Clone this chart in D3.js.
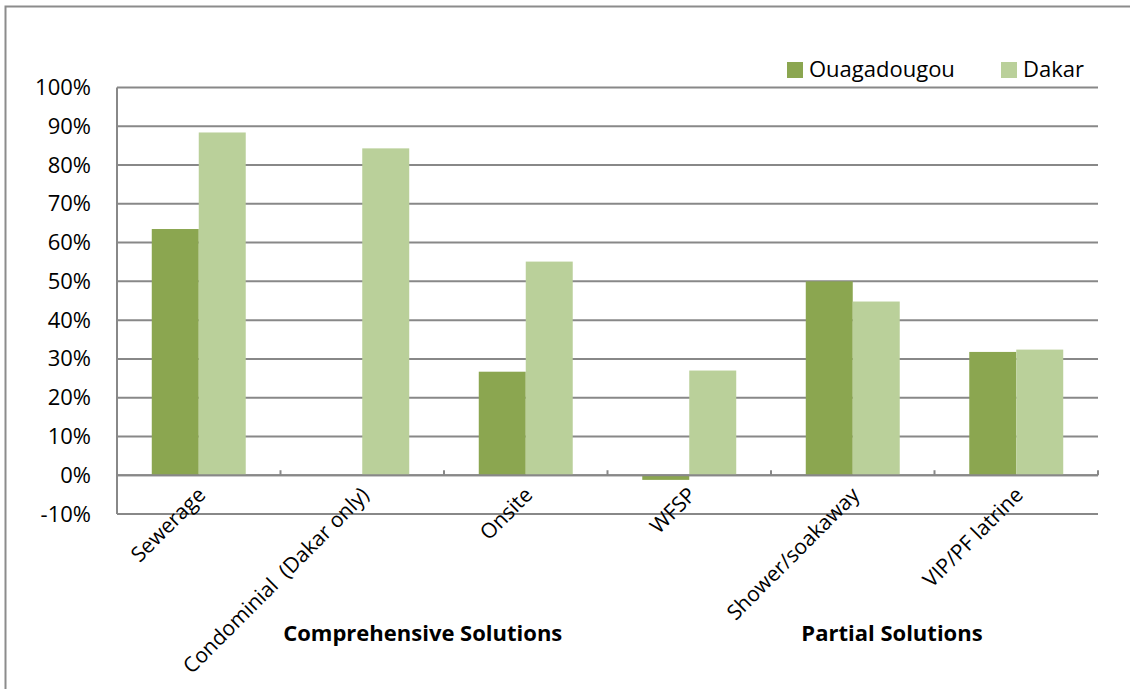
<!DOCTYPE html>
<html>
<head>
<meta charset="utf-8">
<script src="https://cdn.jsdelivr.net/npm/d3@7"></script>
<style>
  body { margin: 0; background: #fff; }
  svg text { font-family: "Open Sans", "Noto Sans", sans-serif; fill: #000; }
</style>
</head>
<body>
<div id="chart"></div>
<script>
const categories = ['Sewerage', 'Condominial  (Dakar only)', 'Onsite', 'WFSP', 'Shower/soakaway', 'VIP/PF latrine'];
const seriesNames = ['Ouagadougou', 'Dakar'];
const ouagadougou = [63.5, null, 26.7, -1.2, 50.0, 31.8];
const dakar = [88.4, 84.3, 55.1, 27.0, 44.8, 32.4];
const yTicks = [-10, 0, 10, 20, 30, 40, 50, 60, 70, 80, 90, 100];
const groupLabels = ['Comprehensive Solutions', 'Partial Solutions'];

const colors = ['#8ba650', '#bad09a'],
  width = 1130,
  height = 689,
  margin = { top: 87.5, right: 32, bottom: 175, left: 117 },
  innerW = width - margin.left - margin.right,
  innerH = height - margin.top - margin.bottom,
  // label centres, in category steps from the left axis
  groupLabelPos = [1.87, 4.74];

const svg = d3
  .select('#chart')
  .append('svg')
  .attr('width', width)
  .attr('height', height);

// outer frame
svg
  .append('rect')
  .attr('x', 5.5)
  .attr('y', 6.5)
  .attr('width', width + 20)
  .attr('height', height + 20)
  .attr('fill', 'none')
  .attr('stroke', '#8c8c8c')
  .attr('stroke-width', 2);

const g = svg
  .append('g')
  .attr('transform', `translate(${margin.left}, ${margin.top})`);

const x = d3.scaleBand().domain(categories).range([0, innerW]);

const x1 = d3
  .scaleBand()
  .domain(seriesNames)
  .range([0, x.bandwidth()])
  .paddingOuter(0.74);

const y = d3.scaleLinear().domain([-10, 100]).range([innerH, 0]);

// gridlines
g.append('g')
  .selectAll('line')
  .data(yTicks)
  .join('line')
  .attr('x1', 0)
  .attr('x2', innerW)
  .attr('y1', (d) => y(d))
  .attr('y2', (d) => y(d))
  .attr('stroke', '#888')
  .attr('stroke-width', 2);

// y axis
const yAxis = g
  .append('g')
  .call(
    d3
      .axisLeft(y)
      .tickValues(yTicks)
      .tickSize(0)
      .tickPadding(26)
      .tickFormat((d) => d + '%')
  );
yAxis.select('.domain').remove();
yAxis.selectAll('text').attr('font-size', 22).attr('fill', '#000');

g.append('line')
  .attr('x1', 0)
  .attr('x2', 0)
  .attr('y1', 0)
  .attr('y2', innerH)
  .attr('stroke', '#888')
  .attr('stroke-width', 2);

// bars
const data = categories.map((c, i) => ({
  cat: c,
  values: [
    { name: seriesNames[0], value: ouagadougou[i] },
    { name: seriesNames[1], value: dakar[i] },
  ],
}));

g.append('g')
  .selectAll('g')
  .data(data)
  .join('g')
  .attr('transform', (d) => `translate(${x(d.cat)}, 0)`)
  .selectAll('rect')
  .data((d) => d.values.filter((v) => v.value !== null))
  .join('rect')
  .attr('x', (d) => x1(d.name))
  .attr('width', x1.bandwidth())
  .attr('y', (d) => y(Math.max(0, d.value)))
  .attr('height', (d) => Math.abs(y(d.value) - y(0)))
  .attr('fill', (d) => colors[seriesNames.indexOf(d.name)]);

// zero axis with category ticks
const zero = g.append('g').attr('transform', `translate(0, ${y(0)})`);
zero
  .append('line')
  .attr('x1', 0)
  .attr('x2', innerW)
  .attr('stroke', '#888')
  .attr('stroke-width', 2);
zero
  .selectAll('.tick-mark')
  .data(d3.range(categories.length + 1))
  .join('line')
  .attr('class', 'tick-mark')
  .attr('x1', (i) => i * x.step())
  .attr('x2', (i) => i * x.step())
  .attr('y1', -5)
  .attr('y2', 0)
  .attr('stroke', '#888')
  .attr('stroke-width', 2);

// category labels
g.append('g')
  .selectAll('text')
  .data(categories)
  .join('text')
  .attr(
    'transform',
    (d) =>
      `translate(${x(d) + x.bandwidth() / 2 + 8}, ${y(0) + 21}) rotate(-45)`
  )
  .attr('text-anchor', 'end')
  .attr('font-size', 21)
  .style('white-space', 'pre')
  .text((d) => d);

// group labels
g.append('g')
  .selectAll('text')
  .data(groupLabels)
  .join('text')
  .attr('x', (d, i) => groupLabelPos[i] * x.step())
  .attr('y', 553)
  .attr('text-anchor', 'middle')
  .attr('font-size', 22)
  .attr('font-weight', 'bold')
  .text((d) => d);

// legend
const legend = svg
  .append('g')
  .selectAll('g')
  .data(seriesNames)
  .join('g')
  .attr('transform', (d, i) => `translate(${[787, 1001][i]}, 62)`);
legend
  .append('rect')
  .attr('width', 16)
  .attr('height', 16)
  .attr('fill', (d, i) => colors[i]);
legend
  .append('text')
  .attr('x', 22)
  .attr('y', 15)
  .attr('font-size', 22)
  .text((d) => d);
</script>
</body>
</html>
